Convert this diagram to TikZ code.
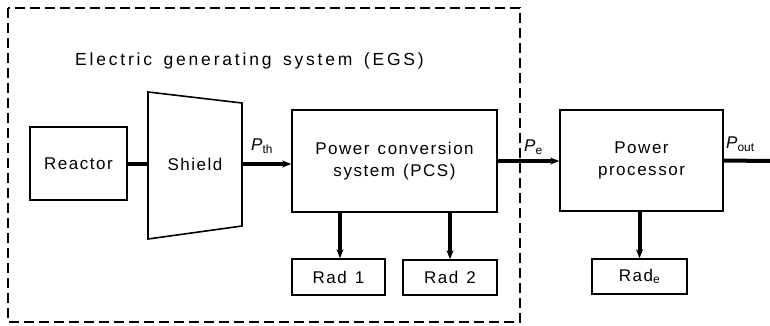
\documentclass[tikz,border=0pt]{standalone}
\usepackage{fontspec}
\setmainfont{Liberation Sans}
\newfontfamily\boxfont{Liberation Sans}[LetterSpace=9,WordSpace=1.3]
\newfontfamily\egsfont{Liberation Sans}[LetterSpace=16,WordSpace=1.5]
\usetikzlibrary{arrows.meta}

\tikzset{
  blockbox/.style={draw,line width=1.6pt,inner sep=0pt,align=center,
    font=\boxfont\fontsize{17}{22}\selectfont},
  flow/.style={line width=4pt},
  flowarrow/.style={line width=4pt,-{Stealth[length=9pt,width=7pt]}},
  powlabel/.style={font=\fontsize{17}{19}\selectfont,inner sep=1pt}
}

\begin{document}
\begin{tikzpicture}[x=1pt,y=-1pt]
\useasboundingbox (0,0) rectangle (770,326);
% ---------- EGS envelope ----------
\draw[line width=1.5pt,dash pattern=on 10pt off 5pt] (8,8) rectangle (520,322);
\node[anchor=west,font=\egsfont\fontsize{17.5}{20}\selectfont,inner sep=0pt] (egs) at (75,61)
  {Electric generating system (EGS)};
% ---------- blocks ----------
\node[blockbox,minimum width=97,minimum height=73] (reactor) at (78.5,163.5) {Reactor};
\coordinate (sh-nw) at (148,92);  \coordinate (sh-ne) at (242,103);
\coordinate (sh-se) at (242,226); \coordinate (sh-sw) at (148,239);
\draw[line width=1.6pt] (sh-nw) -- (sh-ne) -- (sh-se) -- (sh-sw) -- cycle;
\node[font=\boxfont\fontsize{17}{22}\selectfont] (shield) at (195,164) {Shield};
\node[blockbox,minimum width=205,minimum height=102] (pcs) at (394.5,161)
  {Power conversion\\system (PCS)};
\node[blockbox,minimum width=163,minimum height=101] (pp) at (641.5,160.5)
  {Power\\processor};
\node[blockbox,minimum width=93,minimum height=36] (rad1) at (338.5,277) {Rad 1};
\node[blockbox,minimum width=94,minimum height=35] (rad2) at (450,277.5) {Rad 2};
\node[blockbox,minimum width=95,minimum height=35] (rade) at (639.5,276.5) {Rad\textsubscript{e}};
% ---------- power flow ----------
\coordinate (sh-e) at (242,164);
\coordinate (out) at (770,161);
\draw[flow] (reactor.east) -- (reactor.east -| sh-nw);
\draw[flowarrow] (sh-e) -- (sh-e -| pcs.west);
\draw[flowarrow] (pcs.east) -- (pcs.east -| pp.west);
\draw[flow] (pp.east) -- (out);
\draw[flowarrow] (pcs.south -| 340,0) -- (rad1.north -| 340,0);
\draw[flowarrow] (pcs.south -| rad2.north) -- (rad2.north);
\draw[flowarrow] (pp.south -| rade.north) -- (rade.north);
% ---------- labels ----------
\node[powlabel,anchor=west] (pth) at (250,146) {\textit{P}\textsubscript{th}};
\node[powlabel,anchor=west] (pe) at (523,147) {\textit{P}\textsubscript{e}};
\node[powlabel,anchor=west] (pout) at (725,144) {\textit{P}\textsubscript{out}};
\end{tikzpicture}
\end{document}
